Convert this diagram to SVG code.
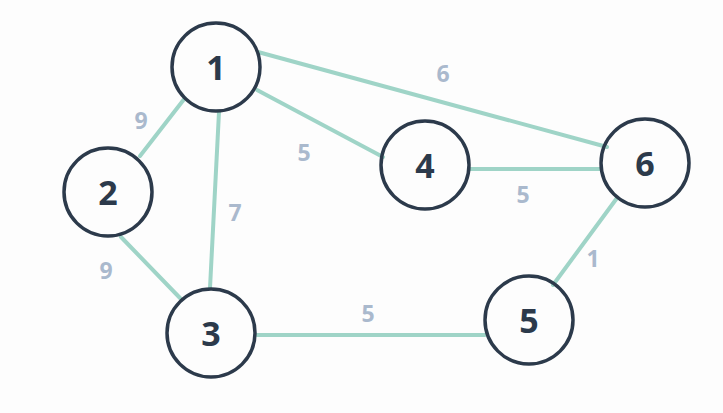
<svg xmlns="http://www.w3.org/2000/svg" width="723" height="413" viewBox="0 0 723 413">
<style>
.edge{stroke:#9fd4c7;stroke-width:4;stroke-linecap:round;fill:none}
.node circle{fill:none;stroke:#2c3a4b;stroke-width:3.5}
.node text{font-family:"Noto Sans","DejaVu Sans",sans-serif;font-weight:bold;font-size:34px;fill:#2c3a4b;text-anchor:middle;dominant-baseline:central}
.lbl{font-family:"Noto Sans","DejaVu Sans",sans-serif;font-weight:bold;font-size:23px;fill:#aab9cd;text-anchor:middle;dominant-baseline:central}
</style>
<rect width="723" height="413" fill="#fdfdfd"/>
<g id="edges">
<line class="edge" x1="258" y1="52" x2="607" y2="147"/>
<line class="edge" x1="257" y1="90" x2="383" y2="157"/>
<line class="edge" x1="470" y1="169" x2="600" y2="169"/>
<line class="edge" x1="617" y1="198" x2="553" y2="285"/>
<line class="edge" x1="257" y1="335" x2="485" y2="335"/>
<line class="edge" x1="219" y1="112" x2="210" y2="288"/>
<line class="edge" x1="185" y1="98" x2="140" y2="156"/>
<line class="edge" x1="121" y1="237" x2="180" y2="298"/>
<text class="lbl" x="141" y="120">9</text>
<text class="lbl" x="106" y="270">9</text>
<text class="lbl" x="235" y="212">7</text>
<text class="lbl" x="304" y="152">5</text>
<text class="lbl" x="443" y="73">6</text>
<text class="lbl" x="523" y="194">5</text>
<text class="lbl" x="593" y="258">1</text>
<text class="lbl" x="368" y="313">5</text>
</g>
<g id="n1" class="node"><circle cx="216" cy="67" r="44"/><text x="216" y="67">1</text></g>
<g id="n2" class="node"><circle cx="108" cy="192" r="44"/><text x="108" y="192">2</text></g>
<g id="n3" class="node"><circle cx="211" cy="333" r="44"/><text x="211" y="333">3</text></g>
<g id="n4" class="node"><circle cx="425" cy="165" r="44"/><text x="425" y="165">4</text></g>
<g id="n5" class="node"><circle cx="529" cy="320" r="44"/><text x="529" y="320">5</text></g>
<g id="n6" class="node"><circle cx="645" cy="163" r="44"/><text x="645" y="163">6</text></g>
</svg>
